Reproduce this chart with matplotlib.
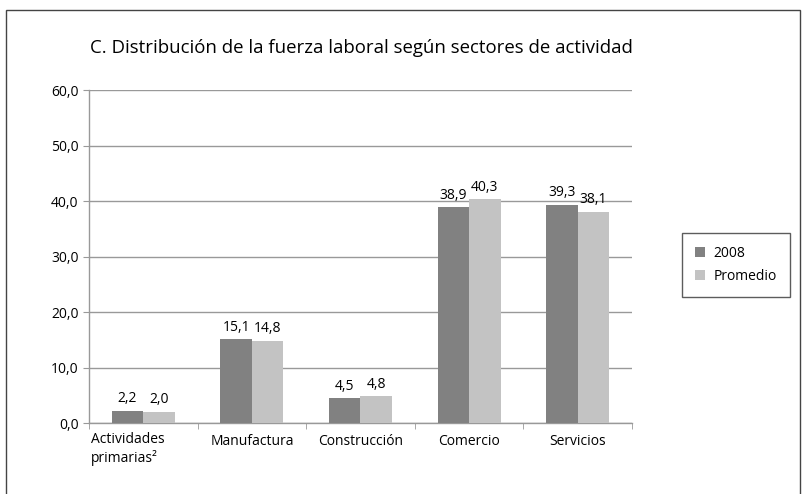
import numpy as np
import matplotlib.pyplot as plt
from matplotlib.patches import Rectangle

categories = ['Actividades\nprimarias²', 'Manufactura', 'Construcción', 'Comercio', 'Servicios']
vals_2008 = [2.2, 15.1, 4.5, 38.9, 39.3]
vals_prom = [2.0, 14.8, 4.8, 40.3, 38.1]
labels_2008 = ['2,2', '15,1', '4,5', '38,9', '39,3']
labels_prom = ['2,0', '14,8', '4,8', '40,3', '38,1']

plt.rcParams['font.family'] = ['Open Sans', 'DejaVu Sans']

fig = plt.figure(figsize=(8.03, 4.94), dpi=100)
ax = fig.add_axes([89/803, 1 - 423/494, (632 - 89)/803, (423 - 90)/494])

# outer frame
fig.patches.append(Rectangle((6/803, -0.1), (800 - 6)/803, 1.1 - 10/494,
                             transform=fig.transFigure, fill=False,
                             edgecolor='#444444', linewidth=1.0))

x = np.arange(len(categories))
w = 0.29
b1 = ax.bar(x - w/2, vals_2008, w, color='#818181', label='2008', zorder=3)
b2 = ax.bar(x + w/2, vals_prom, w, color='#c3c3c3', label='Promedio', zorder=3)

for rect, t in zip(b1, labels_2008):
    ax.text(rect.get_x() + rect.get_width()/2, rect.get_height() + 0.8, t,
            ha='center', va='bottom', fontsize=10)
for rect, t in zip(b2, labels_prom):
    ax.text(rect.get_x() + rect.get_width()/2, rect.get_height() + 0.8, t,
            ha='center', va='bottom', fontsize=10)

ax.set_xlim(-0.5, len(categories) - 0.5)
ax.set_ylim(0, 60)
ax.set_yticks(np.arange(0, 61, 10))
ax.set_yticklabels([f'{v:.1f}'.replace('.', ',') for v in np.arange(0, 61, 10)], fontsize=10)
ax.set_xticks(x)
# first label is drawn left-aligned at the start of its category
ax.set_xticklabels([''] + categories[1:], fontsize=10)
ax.text(-0.5 + 0.02, -0.028, categories[0], transform=ax.get_xaxis_transform(),
        ha='left', va='top', fontsize=10, multialignment='left', linespacing=1.25)
ax.set_xticks(np.arange(-0.5, len(categories)), minor=True)
ax.tick_params(axis='x', which='major', length=0, pad=8)
ax.tick_params(axis='x', which='minor', length=4, color='#999999')
ax.tick_params(axis='y', length=4, color='#999999')
ax.yaxis.grid(True, color='#999999', linewidth=1.0, zorder=0)
for s in ['top', 'right']:
    ax.spines[s].set_visible(False)
for s in ['left', 'bottom']:
    ax.spines[s].set_color('#999999')
    ax.spines[s].set_linewidth(1.0)

fig.text(90/803, 1 - 48/494, 'C. Distribución de la fuerza laboral según sectores de actividad',
         fontsize=13.4, va='center', ha='left')

leg = fig.legend(loc='center', bbox_to_anchor=(736/803, 1 - 265/494), fontsize=10,
                 frameon=True, fancybox=False, edgecolor='#333333',
                 handlelength=0.7, handleheight=0.7, handletextpad=0.6,
                 borderpad=0.95, borderaxespad=0, labelspacing=0.6)
leg.get_frame().set_linewidth(1.0)

fig.savefig('out.png', dpi=100)
